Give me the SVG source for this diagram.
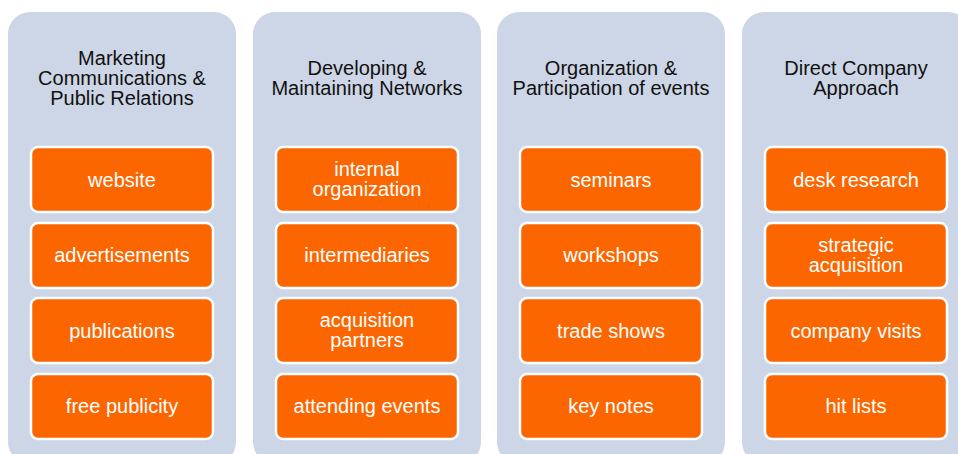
<svg xmlns="http://www.w3.org/2000/svg" width="958" height="454" viewBox="0 0 958 454">
<style>
.panel{fill:#cdd6e6;}
.box{fill:#fb6600;stroke:#ffffff;stroke-width:2.5;}
.title{font-family:"Liberation Sans",Arial,sans-serif;font-size:20px;fill:#111111;text-anchor:middle;}
.lbl{font-family:"Liberation Sans",Arial,sans-serif;font-size:20px;fill:#ffffff;text-anchor:middle;}
</style>
<rect x="0" y="0" width="958" height="454" fill="#ffffff"/>
<g id="col1">
<rect class="panel" x="8" y="12" width="228" height="452" rx="22"/>
<text class="title" x="122" y="65">Marketing</text>
<text class="title" x="122" y="85">Communications &amp;</text>
<text class="title" x="122" y="105">Public Relations</text>
</g>
<g id="col2">
<rect class="panel" x="253" y="12" width="228" height="452" rx="22"/>
<text class="title" x="367" y="75">Developing &amp;</text>
<text class="title" x="367" y="95">Maintaining Networks</text>
</g>
<g id="col3">
<rect class="panel" x="497" y="12" width="228" height="452" rx="22"/>
<text class="title" x="611" y="75">Organization &amp;</text>
<text class="title" x="611" y="95">Participation of events</text>
</g>
<g id="col4">
<rect class="panel" x="742" y="12" width="228" height="452" rx="22"/>
<text class="title" x="856" y="75">Direct Company</text>
<text class="title" x="856" y="95">Approach</text>
</g>
<g id="website"><rect class="box" x="31" y="147" width="182" height="65" rx="7"/><text class="lbl" x="122" y="186.5">website</text></g>
<g id="advertisements"><rect class="box" x="31" y="223" width="182" height="65" rx="7"/><text class="lbl" x="122" y="262">advertisements</text></g>
<g id="publications"><rect class="box" x="31" y="298" width="182" height="65" rx="7"/><text class="lbl" x="122" y="337.5">publications</text></g>
<g id="free-publicity"><rect class="box" x="31" y="374" width="182" height="65" rx="7"/><text class="lbl" x="122" y="413">free publicity</text></g>

<g id="internal-organization"><rect class="box" x="276" y="147" width="182" height="65" rx="7"/><text class="lbl" x="367" y="176">internal</text><text class="lbl" x="367" y="196">organization</text></g>
<g id="intermediaries"><rect class="box" x="276" y="223" width="182" height="65" rx="7"/><text class="lbl" x="367" y="262">intermediaries</text></g>
<g id="acquisition-partners"><rect class="box" x="276" y="298" width="182" height="65" rx="7"/><text class="lbl" x="367" y="327">acquisition</text><text class="lbl" x="367" y="347">partners</text></g>
<g id="attending-events"><rect class="box" x="276" y="374" width="182" height="65" rx="7"/><text class="lbl" x="367" y="413">attending events</text></g>

<g id="seminars"><rect class="box" x="520" y="147" width="182" height="65" rx="7"/><text class="lbl" x="611" y="186.5">seminars</text></g>
<g id="workshops"><rect class="box" x="520" y="223" width="182" height="65" rx="7"/><text class="lbl" x="611" y="262">workshops</text></g>
<g id="trade-shows"><rect class="box" x="520" y="298" width="182" height="65" rx="7"/><text class="lbl" x="611" y="337.5">trade shows</text></g>
<g id="key-notes"><rect class="box" x="520" y="374" width="182" height="65" rx="7"/><text class="lbl" x="611" y="413">key notes</text></g>

<g id="desk-research"><rect class="box" x="765" y="147" width="182" height="65" rx="7"/><text class="lbl" x="856" y="186.5">desk research</text></g>
<g id="strategic-acquisition"><rect class="box" x="765" y="223" width="182" height="65" rx="7"/><text class="lbl" x="856" y="252">strategic</text><text class="lbl" x="856" y="272">acquisition</text></g>
<g id="company-visits"><rect class="box" x="765" y="298" width="182" height="65" rx="7"/><text class="lbl" x="856" y="337.5">company visits</text></g>
<g id="hit-lists"><rect class="box" x="765" y="374" width="182" height="65" rx="7"/><text class="lbl" x="856" y="413">hit lists</text></g>
<g id="connectors"></g>
</svg>
